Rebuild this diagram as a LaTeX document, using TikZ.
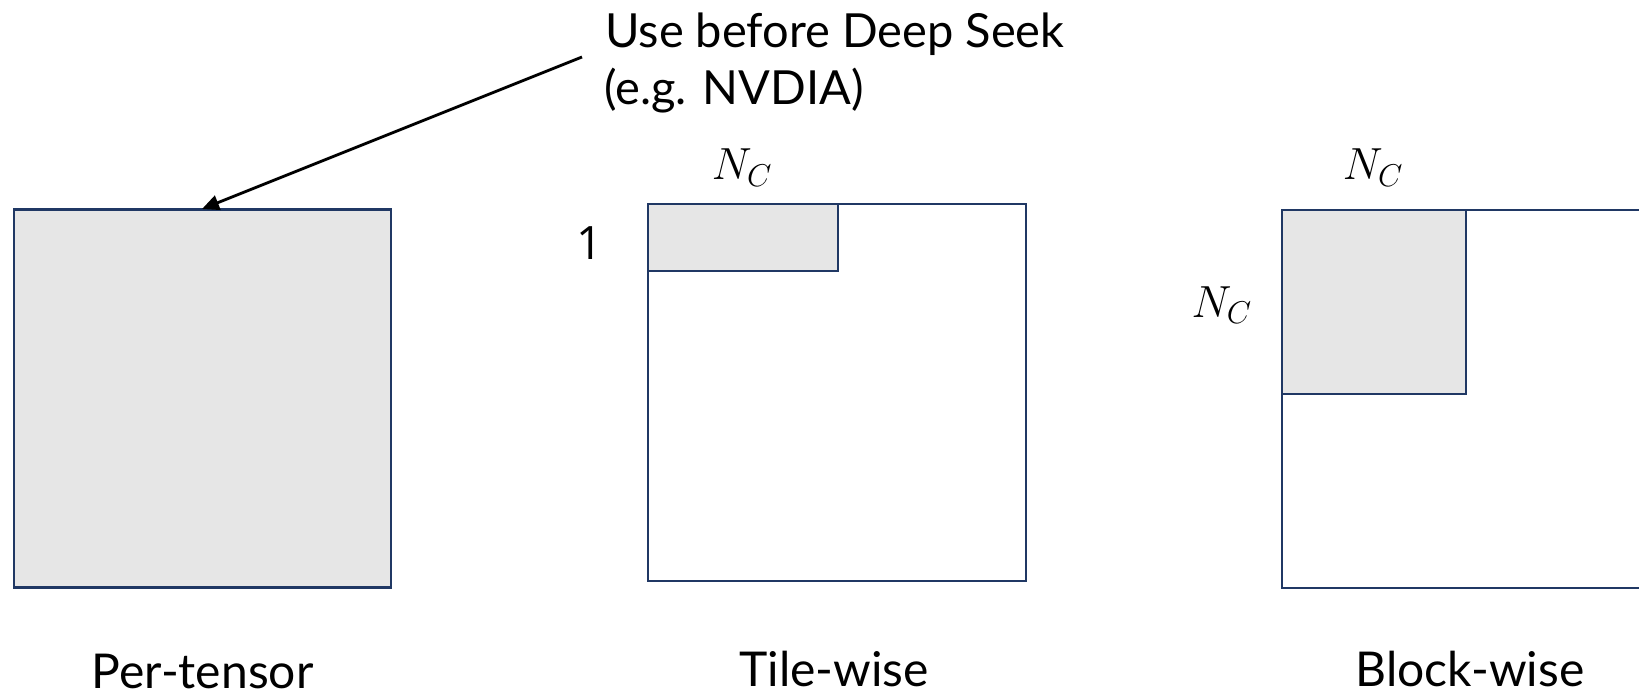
\RequirePackage{fix-cm}
\documentclass[tikz,border=0pt]{standalone}
\usepackage{fontspec}
\setmainfont{Lato}
\newfontfamily\digitfont{Open Sans}
\usetikzlibrary{arrows.meta}
\definecolor{frame}{HTML}{203864}
\definecolor{shade}{HTML}{E6E6E6}
\begin{document}
\begin{tikzpicture}[x=1pt,y=-1pt,
  matrixbox/.style={draw=frame, line width=2.4pt, fill=white, inner sep=0pt, outer sep=0pt, anchor=north west},
  blockbox/.style={matrixbox, fill=shade},
  caption/.style={font=\fontsize{48}{56}\selectfont, inner sep=0pt},
  notetext/.style={font=\fontsize{47}{56}\selectfont, inner sep=0pt, anchor=base west},
  mathlabel/.style={font=\fontsize{45}{54}\selectfont, inner sep=0pt},
  pointer/.style={draw=black, line width=2.8pt, -{Triangle[length=17pt,width=15pt]}}]
\useasboundingbox (0,0) rectangle (1639,699);
\clip (0,0) rectangle (1639,699);

% per-tensor: one scale for the whole matrix
\node[blockbox, minimum width=377pt, minimum height=378pt] (tensor) at (14,209.5) {};

% tile-wise: 1 x N_C tiles
\node[matrixbox, minimum width=378pt, minimum height=377pt] (tilemat) at (648,204) {};
\node[blockbox, minimum width=190pt, minimum height=67pt] (tile) at (648,204) {};

% block-wise: N_C x N_C blocks
\node[matrixbox, minimum width=378pt, minimum height=378pt] (blockmat) at (1282,210) {};
\node[blockbox, minimum width=184pt, minimum height=184pt] (block) at (1282,210) {};

% size labels
\node[mathlabel, anchor=base] (tilew) at (742,179.5) {$N_C$};
\node[font=\digitfont\fontsize{46}{54}\selectfont, inner sep=0pt, anchor=base] (tileh) at (590,259) {1};
\node[mathlabel, anchor=base] (blockw) at (1373,179.5) {$N_C$};
\node[mathlabel, anchor=base east] (blockh) at (1252,317) {$N_C$};

% captions
\node[caption, anchor=base] (cap1) at (202.5,688) {Per-tensor};
\node[caption, anchor=base] (cap2) at (834,686) {Tile-wise};
\node[caption, anchor=base] (cap3) at (1470,686) {Block-wise};

% annotation
\node[notetext] (note1) at (605,47.5) {Use before Deep Seek};
\node[notetext] (note2) at (604,104) {(e.g. NVDIA)};
\coordinate (tail) at (582,57);
\coordinate (hit) at (202,209);
\draw[pointer] (tail) -- (hit);
\end{tikzpicture}
\end{document}
